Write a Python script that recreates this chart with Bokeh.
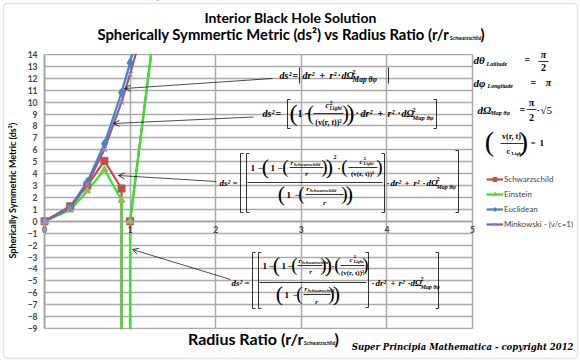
import math
from bokeh.plotting import figure
from bokeh.models import (Range1d, FixedTicker, Label, Arrow, OpenHead, Legend, LegendItem,
                          BoxAnnotation, Grid)
from bokeh.embed import file_html
from bokeh.resources import INLINE

# ---------------- data ----------------
radius_ratio_sc = [0.0, 0.3, 0.5, 0.7, 0.9, 0.995, 1.0, 1.5]
schwarzschild = [0.0, 1.26, 3.0, 5.07, 2.75, -10000.0, 0.0, 28.6]
einstein = [0.0, 0.95, 2.55, 4.34, 1.76, -10000.0, 0.0, 28.6]
radius_ratio_em = [0.0, 0.3, 0.5, 0.7, 0.9, 1.0, 1.1]
euclidean = [0.0, 1.2, 3.3, 6.5, 10.8, 13.3, 16.1]
minkowski = [0.0, 1.1, 3.1, 6.05, 10.0, 12.35, 14.9]
x_ticks = [0, 1, 2, 3, 4, 5]
y_ticks = list(range(-9, 15))
series_names = ["Schwarzschild", "Einstein", "Euclidean", "Minkowski - (v/c=1)"]

RED, GREEN, OLIVE, BLUE, PURPLE = "#c0504d", "#2ee82e", "#9bbb59", "#4f81bd", "#8064a2"
GRID = "#aaaaaa"
SERIF = "Liberation Serif"
SANS = "Lato"

# plot area of the chart in pixels (the figure frame covers the whole canvas)
W, H = 580, 361
FL, FR, FT, FB = 44, 472, 54, 328
XMIN, XMAX, YMIN, YMAX = 0, 5, -9, 14


def X(px):
    return XMIN + (px - FL) * (XMAX - XMIN) / (FR - FL)


def Y(py):
    return YMAX - (py - FT) * (YMAX - YMIN) / (FB - FT)


p = figure(width=W, height=H, x_range=Range1d(X(0), X(W)), y_range=Range1d(Y(H), Y(0)),
           output_backend="svg", toolbar_location=None,
           min_border_left=0, min_border_right=0, min_border_top=0, min_border_bottom=0)
p.title.visible = False
p.background_fill_color = "white"
p.border_fill_color = "white"
p.outline_line_color = None

# axes crossing at the origin
p.xaxis.fixed_location = 0
p.xaxis.bounds = (XMIN, XMAX)
p.xaxis.ticker = FixedTicker(ticks=x_ticks)
p.yaxis.fixed_location = 0
p.yaxis.bounds = (YMIN, YMAX)
p.yaxis.ticker = FixedTicker(ticks=y_ticks)
for ax in (p.xaxis, p.yaxis):
    ax.major_tick_out = 0
    ax.major_tick_in = 0
    ax.minor_tick_line_color = None
    ax.major_tick_line_color = None
    ax.axis_line_color = "#a0a0a0"
    ax.axis_line_width = 1.5
    ax.major_label_text_font = SANS
    ax.major_label_text_font_size = "8.5px"
    ax.major_label_text_font_style = "bold"
p.xaxis.major_label_standoff = 5
p.yaxis.major_label_standoff = 7

# grid limited to the plot area
p.xgrid.ticker = FixedTicker(ticks=x_ticks)
p.ygrid.ticker = FixedTicker(ticks=y_ticks)
p.xgrid.bounds = (XMIN, XMAX)
p.ygrid.bounds = (YMIN, YMAX)
if "cross_bounds" in Grid.properties():
    p.xgrid.cross_bounds = (YMIN, YMAX)
    p.ygrid.cross_bounds = (XMIN, XMAX)
    for g in (p.xgrid, p.ygrid):
        g.grid_line_color = GRID
        g.grid_line_width = 1.5
else:
    for g in (p.xgrid, p.ygrid):
        g.grid_line_color = None
    p.segment(x0=x_ticks, y0=[YMIN] * len(x_ticks), x1=x_ticks, y1=[YMAX] * len(x_ticks),
              line_color=GRID, line_width=1.5)
    p.segment(x0=[XMIN] * len(y_ticks), y0=y_ticks, x1=[XMAX] * len(y_ticks), y1=y_ticks,
              line_color=GRID, line_width=1.5)

# ---------------- series ----------------
r1 = p.line(radius_ratio_sc, schwarzschild, line_color=RED, line_width=2.2)
r2 = p.line(radius_ratio_sc, einstein, line_color=GREEN, line_width=2.2)
r3 = p.line(radius_ratio_em, euclidean, line_color=BLUE, line_width=2.2)
r4 = p.line(radius_ratio_em, minkowski, line_color=PURPLE, line_width=2.2)
m1 = p.scatter(radius_ratio_sc, schwarzschild, marker="square", size=7, fill_color=RED, line_color=RED)
m2 = p.scatter(radius_ratio_sc, einstein, marker="triangle", size=7, fill_color=OLIVE, line_color=OLIVE)
m3 = p.scatter(radius_ratio_em, euclidean, marker="diamond", size=9, fill_color=BLUE, line_color=BLUE)
m4 = p.scatter(radius_ratio_em, minkowski, marker="x", size=7, line_color="#9f86c6", line_width=1.3)

legend = Legend(items=[LegendItem(label=series_names[0], renderers=[r1, m1]),
                       LegendItem(label=series_names[1], renderers=[r2, m2]),
                       LegendItem(label=series_names[2], renderers=[r3, m3]),
                       LegendItem(label=series_names[3], renderers=[r4, m4])],
                location=(486, H - 229), glyph_width=17, glyph_height=10, label_height=10,
                spacing=5, padding=0, margin=0, label_standoff=1,
                label_text_font=SANS, label_text_font_size="8px",
                border_line_color=None, background_fill_alpha=0)
p.add_layout(legend)

# white masks above and below the plot area (lines leaving the plot area are hidden, as in the chart)
for top_px, bot_px in ((0, 53.2), (328.8, H)):
    p.add_layout(BoxAnnotation(left=X(FL - 1), right=X(FR + 1), top=Y(top_px), bottom=Y(bot_px),
                               fill_color="white", fill_alpha=1, line_color=None))


# ---------------- helpers for text layout ----------------
def T(px, py, s, size=9, font=SERIF, style="bold italic", align="left", angle=0, color="black"):
    p.add_layout(Label(x=X(px), y=Y(py), text=s, text_font=font, text_font_size=f"{size}px",
                       text_font_style=style, text_align=align, text_baseline="middle",
                       text_color=color, angle=angle))


def N(px, py, s, size=9, align="left"):
    T(px, py, s, size=size, style="bold", align=align)


def P(px, py, s, size=22):
    T(px, py, s, size=size, style="normal", align="center")


def seg(x0, y0, x1, y1, w=0.8):
    p.add_layout(Arrow(end=None, x_start=X(x0), y_start=Y(y0), x_end=X(x1), y_end=Y(y1),
                       line_width=w, line_color="black"))


def bracket(px, top, bot, side):
    d = 3 if side == "left" else -3
    seg(px, top, px, bot)
    seg(px, top, px + d, top)
    seg(px, bot, px + d, bot)


def arrow(x0, y0, x1, y1):
    p.add_layout(Arrow(end=OpenHead(size=6, line_width=0.8, line_color="black"),
                       x_start=X(x0), y_start=Y(y0), x_end=X(x1), y_end=Y(y1),
                       line_width=0.7, line_color="black"))


def dOmega(px, py, size=10, ss=5.5):
    T(px, py, "dΩ", size)
    N(px + size * 1.1, py - 4, "2", min(ss, 6))
    T(px + size * 1.1, py + 4, "Map θφ", ss)


def c_light(cx, py, size=7):
    T(cx - 3, py, "c", size)
    N(cx + 1, py - 3, "2", size - 2)
    T(cx + 1, py + 2, "Light", size - 2.5)


def r_schw(px, py, size=7):
    T(px, py, "r", size)
    T(px + 3, py + 2, "Schwarzschild", 4.5)


# ---------------- outer chart border ----------------
p.add_layout(BoxAnnotation(left=X(3), right=X(577), top=Y(3), bottom=Y(358),
                           fill_alpha=0, line_color="#a6a6a6", line_width=1.5, border_radius=4))

# ---------------- titles ----------------
T(290, 17, "Interior Black Hole Solution", 14, SANS, "bold", "center")
T(449, 33, "Spherically Symmertic Metric (ds²) vs Radius Ratio (r/r", 14.8, SANS, "bold", "right")
T(449.5, 37, "Schwarzschild", 5, SANS, "bold")
T(480, 33, ")", 14.8, SANS, "bold")
T(303, 338, "Radius Ratio (r/r", 16, SANS, "bold", "right")
T(303.5, 342, "Schwarzschild", 5, SANS, "bold")
T(334, 338, ")", 16, SANS, "bold")
T(12, 190, "Spherically Symmetric Metric (ds²)", 9, SANS, "bold", "center", angle=math.pi / 2)
T(573, 346, "Super Principia Mathematica - copyright 2012", 8.5, "DejaVu Serif", "bold italic", "right")

# ---------------- equation 1 (Euclidean) ----------------
T(279, 75, "ds²", 10)
N(292, 75, "=", 10)
seg(299, 67, 299, 83)
T(302, 75, "dr²", 10)
N(319, 75, "+", 10)
T(329, 75, "r²", 10)
N(337, 75, "·", 10)
dOmega(341, 75, 10, 7.5)
seg(388, 67, 388, 83)
arrow(272, 78, 124, 88)

# ---------------- equation 2 (Minkowski) ----------------
T(262, 113, "ds²", 10)
N(275, 113, "=", 10)
bracket(287, 99, 128, "left")
P(293, 112, "(", 24)
N(297, 113, "1", 10)
N(304, 113, "−", 10)
P(310, 112, "(", 20)
c_light(328, 105, 8)
seg(313, 113, 343, 113)
N(328, 122, "(v(r, t))²", 8, "center")
P(345, 112, ")", 20)
P(350, 112, ")", 24)
N(355, 113, "·", 10)
T(360, 113, "dr²", 10)
N(377, 113, "+", 10)
T(387, 113, "r²", 10)
N(397, 113, "·", 10)
dOmega(401, 113, 10, 6.5)
bracket(436, 99, 128, "right")
arrow(253, 116.5, 113, 123)

# ---------------- equation 3 (Schwarzschild) ----------------
T(219, 182, "ds²", 9)
N(232, 182, "=", 9)
bracket(240, 153, 212, "left")
bracket(246, 153, 212, "left")
N(250, 167, "1", 9)
N(257, 167, "−", 9)
P(265, 166, "(", 22)
N(270, 167, "1", 9)
N(277, 167, "−", 9)
P(285, 166, "(", 19)
r_schw(290, 162)
seg(289, 167, 323, 167)
T(306, 173, "r", 7, align="center")
P(324, 166, ")", 19)
P(329, 166, ")", 22)
N(333, 156, "2", 6)
N(337, 167, "·", 9)
P(344, 166, "(", 19)
c_light(362, 161)
seg(348, 167, 377, 167)
N(362, 173, "(v(r, t))²", 7, "center")
P(379, 166, ")", 19)
seg(247, 182, 382, 182)
P(281, 193, "(", 22)
N(286, 194, "1", 9)
N(294, 194, "−", 9)
P(301, 193, "(", 19)
r_schw(306, 188)
seg(305, 194, 343, 194)
T(324, 202, "r", 7, align="center")
P(344, 193, ")", 19)
P(349, 193, ")", 22)
bracket(384, 153, 212, "right")
N(386, 182, "·", 9)
T(390, 182, "dr²", 9)
N(404, 182, "+", 9)
T(413, 182, "r²", 9)
N(422, 182, "·", 9)
dOmega(426, 182, 9, 6)
bracket(458, 150, 212, "right")
arrow(216, 181, 118, 175)

# ---------------- equation 4 (Einstein) ----------------
T(231, 282, "ds²", 9)
N(244, 282, "=", 9)
bracket(252, 252, 308, "left")
bracket(258, 252, 308, "left")
N(262, 265, "1", 9)
N(268, 265, "−", 9)
P(276, 264, "(", 22)
N(281, 265, "1", 9)
N(287, 265, "−", 9)
P(294, 264, "(", 19)
r_schw(298, 260)
seg(297, 265, 322, 265)
T(310, 271, "r", 7, align="center")
P(323, 264, ")", 19)
P(328, 264, ")", 22)
N(331, 265, "·", 9)
P(337, 264, "(", 19)
c_light(352, 259)
seg(340, 265, 364, 265)
N(352, 272, "(v(r, t))²", 7, "center")
P(365, 264, ")", 19)
seg(259, 282, 366, 282)
P(279, 293, "(", 22)
N(284, 294, "1", 9)
N(292, 294, "−", 9)
P(299, 293, "(", 19)
r_schw(304, 288)
seg(303, 294, 330, 294)
T(316, 301, "r", 7, align="center")
P(331, 293, ")", 19)
P(336, 293, ")", 22)
bracket(368, 252, 307, "right")
N(371, 282, "·", 9)
T(375, 282, "dr²", 9)
N(390, 282, "+", 9)
T(398, 282, "r²", 9)
N(407, 282, "·", 9)
dOmega(410, 282, 9, 6)
bracket(438, 252, 308, "right")
arrow(230, 279, 132, 249)

# ---------------- right side definitions ----------------
T(473, 59, "dθ", 11)
T(486, 63, "Latitude", 6)
N(524, 59, "=", 10)
T(543, 54, "π", 10, align="center")
seg(538, 61, 548, 61)
N(543, 67, "2", 10, "center")

T(473, 82, "dφ", 11)
T(487, 85, "Longitude", 6)
N(530, 82, "=", 10)
T(548, 82, "π", 10, align="center")

T(477, 109, "dΩ", 11)
T(490, 112, "Map θφ", 6)
N(519, 109, "=", 10)
N(531, 102, "π", 10, "center")
seg(526, 109, 536, 109)
N(531, 117, "2", 10, "center")
N(536, 109, "·", 9)
T(540, 109, "√5", 11, style="normal")

P(489, 141, "(", 28)
N(511, 136, "v(r, t)", 8, "center")
seg(500, 143, 523, 143)
N(506, 151, "c", 8)
N(511, 153, "Light", 5)
P(523, 141, ")", 28)
N(530, 142, "=", 9)
N(539, 142, "1", 9)

open("out.html", "w").write(file_html(p, INLINE))
